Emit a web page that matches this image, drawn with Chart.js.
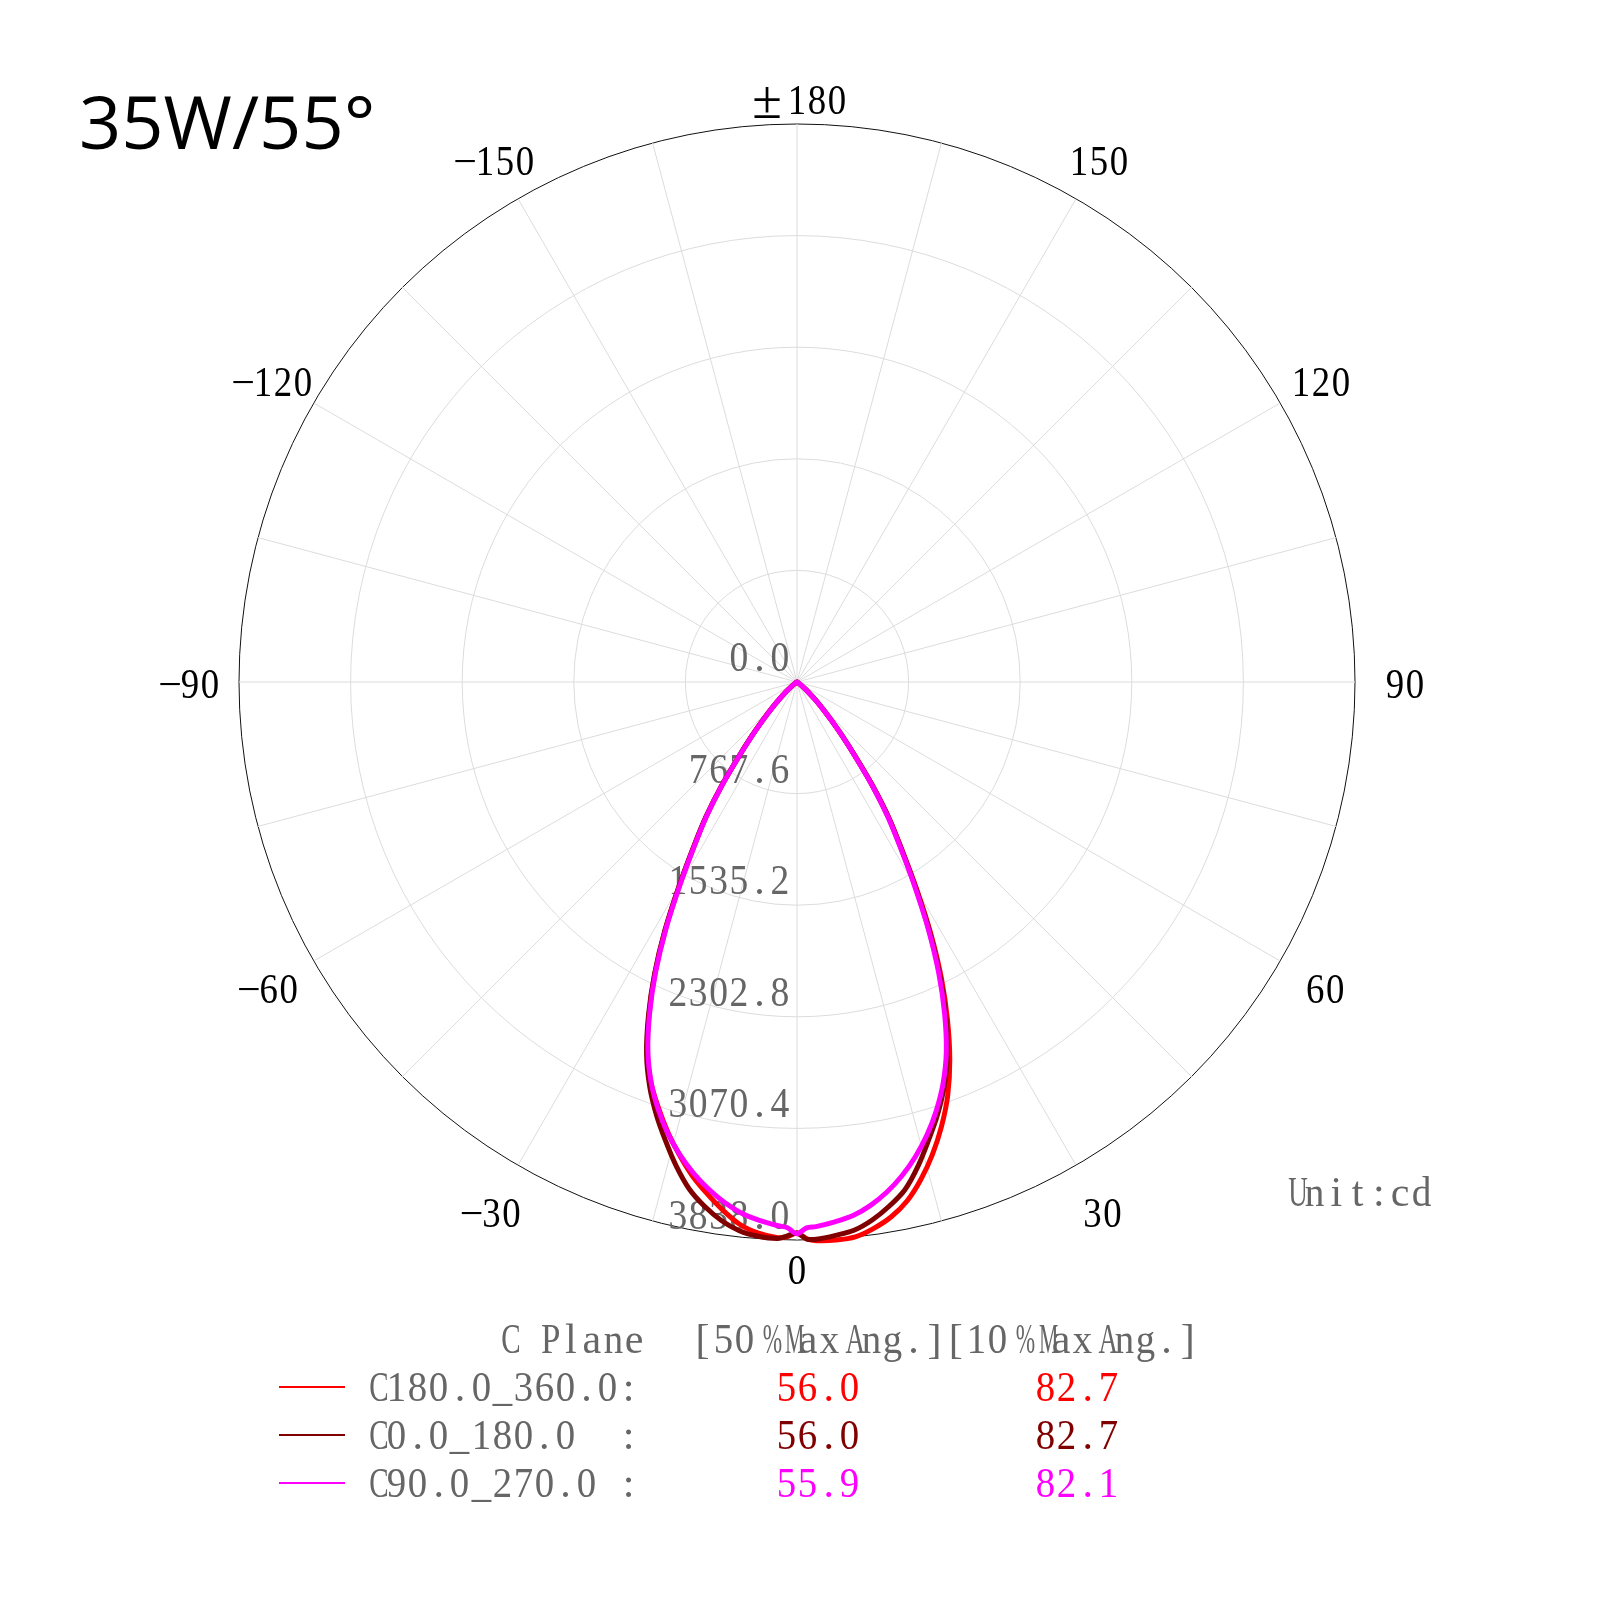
<!DOCTYPE html>
<html>
<head>
<meta charset="utf-8">
<script src="https://cdn.jsdelivr.net/npm/chart.js@4/dist/chart.umd.min.js"></script>
<style>
  html, body { margin: 0; padding: 0; background: #fff; }
  #stage { position: relative; width: 1600px; height: 1600px; overflow: hidden; background: #fff; }
  #c { position: absolute; left: 0; top: 0; }
  #title { position: absolute; left: 79px; top: 83px; font-family: "Open Sans", "Noto Sans", sans-serif; font-size: 74px; line-height: 76px; color: #000; white-space: nowrap; }
  .mono { position: absolute; height: 50px; line-height: 50px; font-family: "Liberation Serif", serif; font-size: 42px; white-space: nowrap; }
  .mono .ch { display: inline-block; text-align: center; }
  .mono .ch .g { display: inline-block; transform-origin: 50% 50%; }
  .swatch { position: absolute; height: 2px; }
</style>
</head>
<body>
<div id="stage">
  <canvas id="c" width="1600" height="1600"></canvas>
  <div id="title">35W/55°</div>
</div>
<script>
// ---------------- data ----------------
// angles from nadir (deg) at which intensities were read
const gammaDeg = [0,1,2,4,6,8,10,12,14,16,18,20,22,24,26,28,30,32,34,36,38,40,42,44,46,48,50,55,60,70,90,120,150,180];

// C180.0_360.0 (red): right half (+) and left half (-)
const c180_360_pos = [3790,3830,3845,3848,3838,3795,3735,3648,3525,3380,3215,3030,2805,2545,2265,1960,1648,1365,1138,895,660,486,350,250,170,110,68,22,6,0,0,0,0,0];
const c180_360_neg = [3790,3815,3824,3800,3752,3668,3572,3470,3350,3222,3082,2935,2748,2502,2228,1928,1618,1344,1118,880,648,478,343,243,163,103,62,20,5,0,0,0,0,0];

// C0.0_180.0 (dark red)
const c0_180_pos = [3790,3832,3835,3815,3790,3735,3660,3570,3435,3280,3128,2960,2762,2516,2240,1940,1630,1355,1130,888,655,482,348,248,168,108,66,22,6,0,0,0,0,0];
const c0_180_neg = [3790,3810,3830,3822,3795,3740,3662,3565,3432,3282,3130,2962,2762,2512,2236,1936,1626,1350,1125,885,652,480,346,246,166,106,64,22,6,0,0,0,0,0];

// C90.0_270.0 (magenta)
const c90_270_pos = [3795,3755,3748,3722,3690,3635,3562,3472,3365,3242,3100,2938,2742,2496,2222,1922,1614,1342,1117,880,650,480,345,245,165,105,65,20,5,0,0,0,0,0];
const c90_270_neg = [3795,3754,3742,3712,3672,3612,3536,3448,3345,3228,3090,2932,2738,2492,2218,1918,1608,1336,1112,876,646,476,341,241,161,101,61,20,5,0,0,0,0,0];

// tick labels
const angleTickLabels = ['±180','150','120','90','60','30','0','−30','−60','−90','−120','−150'];
const radialTickValues = [0, 767.6, 1535.2, 2302.8, 3070.4, 3838.0];
const radialTickLabels = ['0.0','767.6','1535.2','2302.8','3070.4','3838.0'];

// legend table
const legendNames = ['C180.0_360.0:', 'C0.0_180.0  :', 'C90.0_270.0 :'];
const beam50 = ['56.0', '56.0', '55.9'];
const beam10 = ['82.7', '82.7', '82.1'];
const legendHeader1 = 'C Plane';
const legendHeader2 = '[50%MaxAng.][10%MaxAng.]';
const unitText = 'Unit:cd';

// ---------------- styles ----------------
const seriesColors = ['#FF0000', '#800000', '#FF00FF'];
const labelGap = [26,46,47,50,52,53,28,53,52,49,47,46];
const labelDy = 5;
const gridGray = '#dcdcdc';
const textGray = '#666666';

// ---------------- build radar table ----------------
const radarLabels = Array.from({length: 360}, (_, i) => 180 - i);
function toRadar(pos, neg) {
  const arr = new Array(360).fill(null);
  gammaDeg.forEach((g, k) => {
    arr[(180 - g + 360) % 360] = pos[k];
    arr[(180 + g) % 360] = neg[k];
  });
  return arr;
}

function monoText(ctx, text, x, y, pitch, align, baseFont) {
  const chars = [...text];
  const cells = chars.map(ch => ch === '±' ? 2 : 1);
  const total = cells.reduce((a, b) => a + b, 0) * pitch;
  let start = align === 'right' ? x - total : (align === 'center' ? x - total / 2 : x);
  ctx.textAlign = 'center';
  ctx.textBaseline = 'middle';
  chars.forEach((ch, k) => {
    const w = cells[k] * pitch;
    ctx.font = baseFont;
    if (ch === '±') {
      ctx.font = '54px "Liberation Serif", serif';
      ctx.fillText(ch, start + w / 2, y + 1);
    } else if (ch === '−') {
      ctx.fillText(ch, start + w / 2, y);
    } else {
      ctx.fillText(ch, start + w / 2, y, pitch * 0.92);
    }
    start += w;
  });
  ctx.font = baseFont;
}

const labelsPlugin = {
  id: 'polarLabels',
  beforeDatasetsDraw(chart) {
    const s = chart.scales.r;
    const ctx = chart.ctx;
    ctx.save();
    ctx.fillStyle = textGray;
    const f = '42px "Liberation Serif", serif';
    radialTickValues.forEach((v, k) => {
      const d = s.getDistanceFromCenterForValue(v);
      monoText(ctx, radialTickLabels[k], s.xCenter - 7, s.yCenter + d - 22, 20.4, 'right', f);
    });
    ctx.restore();
  },
  afterDraw(chart) {
    const s = chart.scales.r;
    const ctx = chart.ctx;
    ctx.save();
    ctx.fillStyle = '#000';
    const f = '42px "Liberation Serif", serif';
    angleTickLabels.forEach((lab, k) => {
      const p = s.getPointPosition(k * 30, s.drawingArea + labelGap[k]);
      monoText(ctx, lab, p.x, p.y + labelDy, 20, 'center', f);
    });
    ctx.restore();
  }
};

const mkDs = (label, data, color, order) => ({
  label, data, borderColor: color, backgroundColor: color, borderWidth: 5,
  pointRadius: 0, pointHoverRadius: 0, fill: false, spanGaps: true, tension: 0.3,
  borderJoinStyle: 'round', order
});

new Chart(document.getElementById('c'), {
  type: 'radar',
  data: {
    labels: radarLabels,
    datasets: [
      mkDs(legendNames[0], toRadar(c180_360_pos, c180_360_neg), seriesColors[0], 3),
      mkDs(legendNames[1], toRadar(c0_180_pos, c0_180_neg), seriesColors[1], 2),
      mkDs(legendNames[2], toRadar(c90_270_pos, c90_270_neg), seriesColors[2], 1)
    ]
  },
  options: {
    responsive: false,
    devicePixelRatio: 1,
    animation: false,
    layout: { padding: { left: 239, right: 245, top: 124, bottom: 360 } },
    plugins: { legend: { display: false }, tooltip: { enabled: false } },
    scales: {
      r: {
        min: 0,
        max: radialTickValues[radialTickValues.length - 1],
        afterBuildTicks: (scale) => { scale.ticks = radialTickValues.map(v => ({ value: v })); },
        ticks: { display: false },
        grid: {
          circular: true,
          color: (ctx) => ctx.index === radialTickValues.length - 1 ? '#111111' : gridGray,
          lineWidth: 1
        },
        angleLines: {
          display: true,
          color: gridGray,
          lineWidth: (ctx) => ctx.index % 15 === 0 ? 1 : 0
        },
        pointLabels: { display: false }
      }
    }
  },
  plugins: [labelsPlugin]
});

// ---------------- HTML legend ----------------
const stage = document.getElementById('stage');
function addMono(text, left, centerY, pitch, color) {
  const d = document.createElement('div');
  d.className = 'mono';
  d.style.left = left + 'px';
  d.style.top = (centerY - 25) + 'px';
  d.style.color = color;
  d.innerHTML = [...text].map(ch => `<span class="ch" style="width:${pitch}px"><span class="g">${ch === ' ' ? '&nbsp;' : ch}</span></span>`).join('');
  stage.appendChild(d);
  d.querySelectorAll('.g').forEach(g => {
    const w = g.getBoundingClientRect().width;
    const lim = pitch * 0.92;
    if (w > lim) g.style.transform = `scaleX(${(lim / w).toFixed(3)})`;
  });
}
addMono(legendHeader1, 497, 1339, 21.1, textGray);
addMono(legendHeader2, 692, 1339, 21.1, textGray);
const rowY = [1387, 1435, 1483];
legendNames.forEach((name, k) => {
  const sw = document.createElement('div');
  sw.className = 'swatch';
  sw.style.left = '279px'; sw.style.width = '66px';
  sw.style.top = (rowY[k] - 1) + 'px';
  sw.style.background = seriesColors[k];
  stage.appendChild(sw);
  addMono(name, 365, rowY[k], 21.1, textGray);
  addMono(beam50[k], 776, rowY[k], 21.1, seriesColors[k]);
  addMono(beam10[k], 1035, rowY[k], 21.1, seriesColors[k]);
});
addMono(unitText, 1283, 1192, 21.3, textGray);
</script>
</body>
</html>
